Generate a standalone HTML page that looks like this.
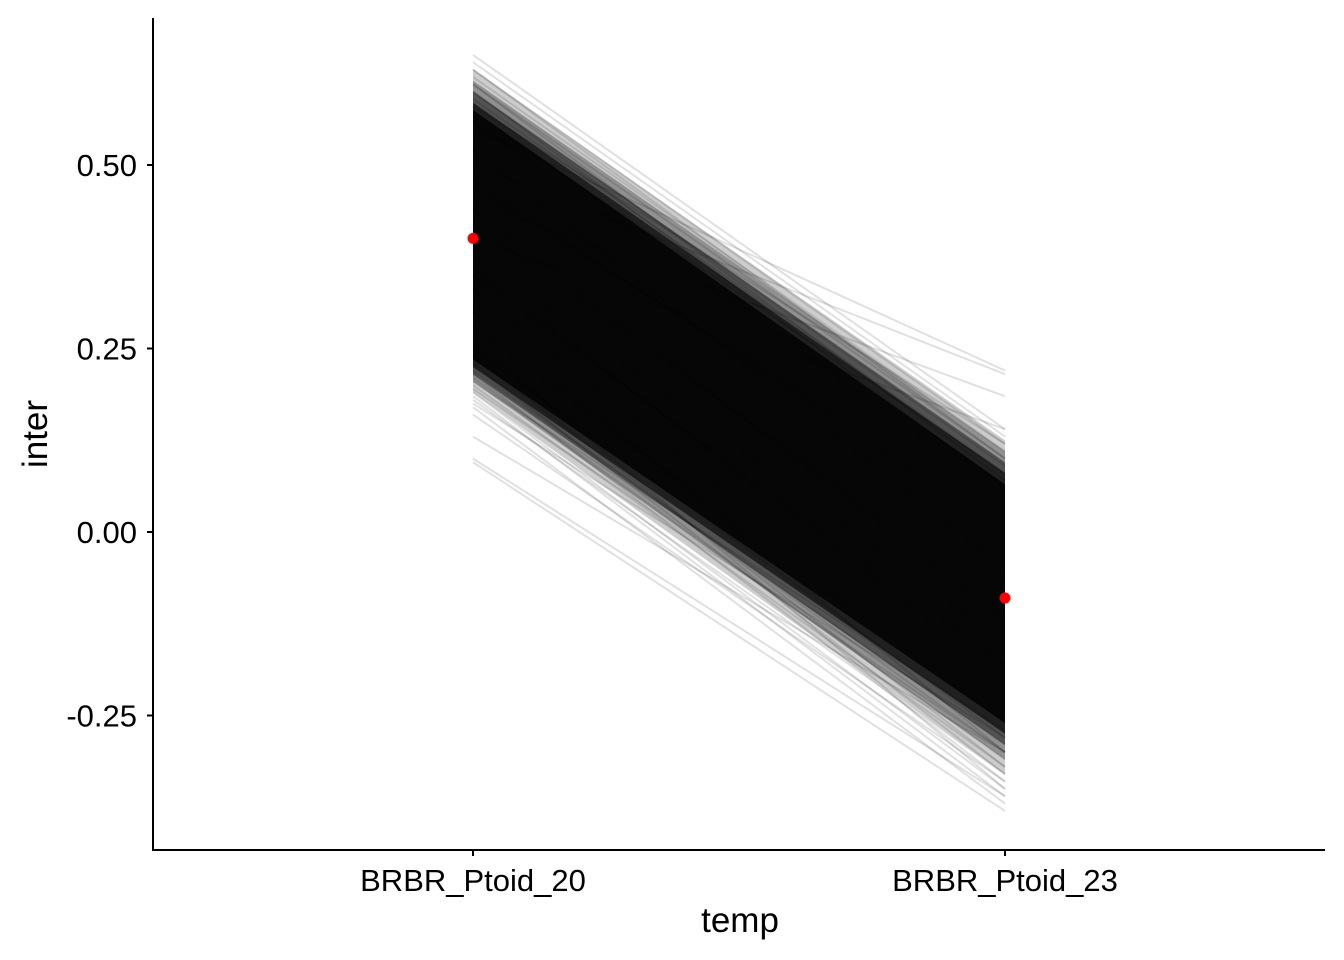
<!DOCTYPE html>
<html><head><meta charset="utf-8"><style>
html,body{margin:0;padding:0;background:#fff;}
svg{display:block;font-family:"Liberation Sans",Arial,sans-serif;}
</style></head><body>
<svg id="chart" width="1344" height="960">
<g id="bands"></g>
<g id="lines"></g>
<g id="points"></g>
<g id="axes"></g>
</svg>
<script>
const categories = ["BRBR_Ptoid_20","BRBR_Ptoid_23"];
const yTicks = [0.50,0.25,0.00,-0.25];
const yTickLabels = ["0.50","0.25","0.00","-0.25"];
const meanValues = [0.40,-0.09];
// quantile bands: [low20, low23, high20, high23, opacity]
const bandLow20 = [0.19,0.205,0.215,0.225,0.235];
const bandLow23 = [-0.33,-0.31,-0.29,-0.275,-0.26];
const bandHigh20 = [0.63,0.615,0.60,0.585,0.575];
const bandHigh23 = [0.125,0.11,0.095,0.08,0.065];
const bandAlpha = [0.2,0.3,0.45,0.65,1];
const lineStart = [0.65,0.64,0.63,0.62,0.61,0.60,0.59,0.58,0.63,0.61,0.60,0.57,0.56,0.55,0.50,0.45,0.40,
 0.10,0.095,0.13,0.16,0.17,0.18,0.19,0.20,0.21,0.22,0.23,0.175,0.185,0.195,0.205,0.215,0.225,0.24,0.25,0.26,0.28,0.30,0.33,
 0.36,0.38,0.42,0.47,0.52,0.48,0.44,0.35];
const lineEnd = [0.14,0.13,0.12,0.11,0.10,0.09,0.08,0.12,0.10,0.07,0.06,0.08,0.05,0.22,0.215,0.185,0.14,
 -0.36,-0.38,-0.30,-0.34,-0.37,-0.33,-0.35,-0.32,-0.31,-0.29,-0.33,-0.28,-0.36,-0.30,-0.27,-0.34,-0.30,-0.32,-0.28,-0.35,-0.26,-0.30,-0.25,
 -0.2,-0.15,-0.1,0.02,-0.05,0.0,-0.12,-0.18];

const ns="http://www.w3.org/2000/svg";
const X0=153,Y0=850,X1=1325;
const xPos=i=>473+i*532;
const yPos=v=>532-734*v;
function mk(tag,attrs,parent){const e=document.createElementNS(ns,tag);for(const k in attrs)e.setAttribute(k,attrs[k]);parent.appendChild(e);return e;}
const bands=document.getElementById('bands');
bandLow20.forEach((lo,i)=>{
 const pts=[[xPos(0),yPos(bandHigh20[i])],[xPos(1),yPos(bandHigh23[i])],[xPos(1),yPos(bandLow23[i])],[xPos(0),yPos(lo)]];
 const p=mk('polygon',{points:pts.map(q=>q.join(',')).join(' '),fill:'#060606','fill-opacity':bandAlpha[i]},bands);
 
 
});
const lg=document.getElementById('lines');
lineStart.forEach((s,i)=>{
 const l=mk('line',{x1:xPos(0),y1:yPos(s),x2:xPos(1),y2:yPos(lineEnd[i]),stroke:'rgba(0,0,0,0.12)','stroke-width':2},lg);
 
 
});
const pg=document.getElementById('points');
meanValues.forEach((v,i)=>{
 const c=mk('circle',{cx:xPos(i),cy:yPos(v),r:5.5,fill:'#ff0000'},pg);
 
 
});
const ax=document.getElementById('axes');
mk('line',{x1:X0,y1:18,x2:X0,y2:Y0+1,stroke:'#000','stroke-width':2},ax);
mk('line',{x1:X0-1,y1:Y0,x2:X1,y2:Y0,stroke:'#000','stroke-width':2},ax);
yTicks.forEach((v,i)=>{
 const t=mk('line',{x1:X0-6,y1:yPos(v),x2:X0,y2:yPos(v),stroke:'#000','stroke-width':2},ax);
 
 
 const tx=mk('text',{x:X0-16,y:yPos(v)+11,'text-anchor':'end','font-size':31,fill:'#000'},ax);
 tx.textContent=yTickLabels[i];
 
 
});
categories.forEach((c,i)=>{
 const t=mk('line',{x1:xPos(i),y1:Y0,x2:xPos(i),y2:Y0+6,stroke:'#000','stroke-width':2},ax);
 
 
 const tx=mk('text',{x:xPos(i),y:891,'text-anchor':'middle','font-size':31,fill:'#000'},ax);
 tx.textContent=c;
 
 
});
const xt=mk('text',{x:740,y:932,'text-anchor':'middle','font-size':35,fill:'#000'},ax);
xt.textContent='temp';


const yt=mk('text',{x:47,y:434,'text-anchor':'middle','font-size':35,fill:'#000',transform:'rotate(-90 47 434)'},ax);
yt.textContent='inter';


</script>
</body></html>
